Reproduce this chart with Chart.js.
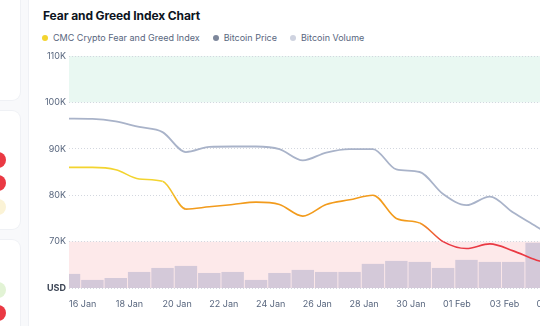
<!DOCTYPE html>
<html lang="en">
<head>
  <meta charset="UTF-8">
  <title>Fear and Greed Index Chart</title>
  <script src="https://cdn.jsdelivr.net/npm/chart.js"></script>
  <style>
    html, body { margin:0; padding:0; }
    body { width:540px; height:326px; overflow:hidden; position:relative;
           background:#f8f9fb; font-family:Inter, "Noto Sans", sans-serif; }
    .side { position:absolute; left:-20px; width:40px; background:#fff;
            border-radius:8px; box-shadow:0 0 0 1px #eff1f5; }
    .dot  { position:absolute; left:-10px; width:16px; height:16px; border-radius:50%; }
    .main { position:absolute; left:29px; top:-12px; width:620px; height:400px;
            background:#fff; border-radius:8px; box-shadow:0 0 0 1px #eff1f5; }
    h1 { position:absolute; left:43px; top:8px; margin:0; font-size:12px;
         font-weight:700; color:#0d1421; letter-spacing:-0.1px; }
    .legend { position:absolute; left:42px; top:32px; display:flex; gap:13px;
              font-size:9px; color:#58667e; }
    .legend span { display:flex; align-items:center; gap:5px; }
    .legend i { width:6px; height:6px; border-radius:50%; display:inline-block; }
    .wrap { position:absolute; left:40px; top:44px; width:523px; height:266px; }
  </style>
</head>
<body>
  <!-- tarjetas laterales recortadas -->
  <div class="side" style="top:-20px;height:120px"></div>
  <div class="side" style="top:111px;height:118px"></div>
  <div class="side" style="top:240px;height:120px"></div>
  <div class="dot" style="top:152px;background:#ea3943"></div>
  <div class="dot" style="top:175px;background:#ea3943"></div>
  <div class="dot" style="top:199px;background:#fbf3d6"></div>
  <div class="dot" style="top:282px;background:#e2f3d5"></div>
  <div class="dot" style="top:305px;background:#ea3943"></div>

  <div class="main"></div>
  <h1>Fear and Greed Index Chart</h1>
  <div class="legend">
    <span><i style="background:#f3d42f"></i>CMC Crypto Fear and Greed Index</span>
    <span><i style="background:#7d879b"></i>Bitcoin Price</span>
    <span><i style="background:#cfd3e0"></i>Bitcoin Volume</span>
  </div>
  <div class="wrap"><canvas id="fg"></canvas></div>

  <script>
    /* ---------- datos ---------- */
    const days = ['16 Jan','17 Jan','18 Jan','19 Jan','20 Jan','21 Jan','22 Jan','23 Jan',
                  '24 Jan','25 Jan','26 Jan','27 Jan','28 Jan','29 Jan','30 Jan','31 Jan',
                  '01 Feb','02 Feb','03 Feb','04 Feb','05 Feb','06 Feb'];
    const btcPrice = [96500, 96450, 95900, 94700, 93600, 89300, 90400, 90500,
                      90500, 89950, 87500, 89200, 89950, 89950, 85550, 85000,
                      80250, 77850, 79700, 76250, 73200, 70000];
    const fearGreed = [52, 52, 51, 47, 46, 34, 35, 36,
                       37, 36, 31, 36, 38, 40, 30, 28,
                       20, 17, 19, 16, 12, 10];
    const btcVolume = [15.2, 8.7, 10.8, 17.3, 21.6, 23.8, 16.2, 17.3,
                       8.7, 16.2, 19.5, 17.3, 17.3, 26.0, 29.2, 28.1,
                       21.6, 30.3, 28.1, 28.1, 48.7, 55.0];   // miles de millones USD
    const priceTicks = [60000, 70000, 80000, 90000, 100000, 110000];
    const greedZone = [100000, 110000];
    const fearZone  = [60000, 70000];

    const fgColor = v => v >= 45 ? '#f3d42f' : v >= 25 ? '#f29b1c' : '#ea3943';

    /* franjas de color detrás de la rejilla */
    const zones = {
      id: 'zones',
      beforeDraw(chart) {
        const { ctx, chartArea: a, scales: { y } } = chart;
        ctx.save();
        ctx.fillStyle = '#e9f8f2';
        let t = y.getPixelForValue(greedZone[1]), b = y.getPixelForValue(greedZone[0]);
        ctx.fillRect(a.left, t, a.right - a.left, b - t);
        ctx.fillStyle = '#fde9ea';
        t = y.getPixelForValue(fearZone[1]); b = y.getPixelForValue(fearZone[0]);
        ctx.fillRect(a.left, t, a.right - a.left, b - t);
        ctx.restore();
      }
    };

    new Chart(document.getElementById('fg'), {
      data: {
        labels: days,
        datasets: [
          {
            type: 'line', label: 'CMC Crypto Fear and Greed Index', yAxisID: 'fgAxis',
            data: fearGreed, order: 0, borderWidth: 1.6, pointRadius: 0,
            cubicInterpolationMode: 'monotone',
            borderColor: '#f3d42f',
            segment: {
              borderColor: c => {
                const c0 = fgColor(fearGreed[c.p0DataIndex]), c1 = fgColor(fearGreed[c.p1DataIndex]);
                if (c0 === c1) return c0;
                const g = c.chart.ctx.createLinearGradient(c.p0.x, 0, c.p1.x, 0);
                g.addColorStop(0, c0); g.addColorStop(1, c1);
                return g;
              }
            }
          },
          {
            type: 'line', label: 'Bitcoin Price', yAxisID: 'y',
            data: btcPrice, order: 1, borderColor: '#a9b3c9', borderWidth: 1.8,
            pointRadius: 0, cubicInterpolationMode: 'monotone'
          },
          {
            type: 'bar', label: 'Bitcoin Volume', yAxisID: 'vol',
            data: btcVolume, order: 2, backgroundColor: '#d4c9d9',
            barPercentage: 0.96, categoryPercentage: 1
          }
        ]
      },
      options: {
        responsive: true, maintainAspectRatio: false, animation: false,
        layout: { padding: { top: 12, left: 0, right: 0, bottom: 0 } },
        plugins: { legend: { display: false }, tooltip: { enabled: false } },
        scales: {
          x: {
            offset: false,
            grid: { display: false }, border: { display: false },
            ticks: {
              autoSkip: false, maxRotation: 0, align: 'start', padding: 3,
              color: '#58667e', font: { family: 'Inter', size: 9 },
              callback: (v, i) => i % 2 === 0 && i < days.length - 1 ? days[i] : ''
            },
            afterFit: s => { s.height = 22; }
          },
          y: {
            min: priceTicks[0], max: priceTicks[priceTicks.length - 1],
            afterBuildTicks: s => { s.ticks = priceTicks.map(v => ({ value: v })); },
            grid: { color: '#d3d7df', drawTicks: false },
            border: { display: false, dash: [1, 2] },
            ticks: {
              padding: 3,
              color: c => c.tick && c.tick.value === priceTicks[0] ? '#3d4656' : '#58667e',
              font: c => ({ family: 'Inter', size: 9,
                            weight: c.tick && c.tick.value === priceTicks[0] ? 'bold' : 'normal' }),
              callback: v => v === priceTicks[0] ? 'USD' : (v / 1000) + 'K'
            },
            afterFit: s => { s.width = 29; }
          },
          fgAxis: { display: false, min: 0, max: 100 },
          vol:    { display: false, min: 0, max: 250 }
        }
      },
      plugins: [zones]
    });
  </script>
</body>
</html>
